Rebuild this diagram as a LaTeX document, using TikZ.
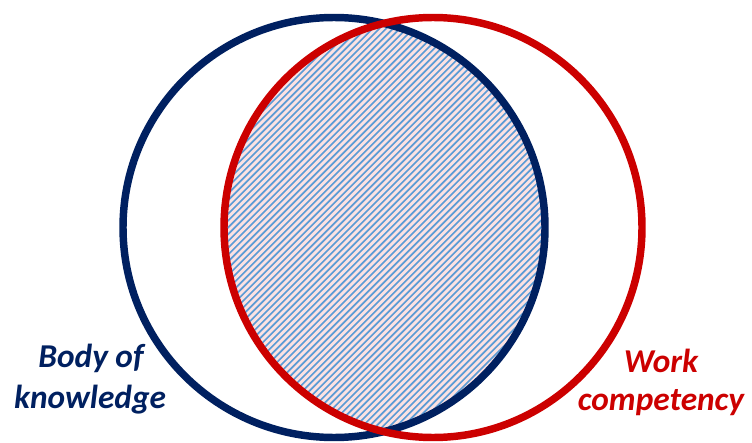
\documentclass[tikz,border=0pt]{standalone}
\usepackage{fontspec}
\setsansfont{Carlito}
\definecolor{navy}{RGB}{0,32,96}
\definecolor{wred}{RGB}{204,0,0}
\definecolor{hpink}{RGB}{252,226,226}
\definecolor{hblue}{RGB}{91,155,213}
\tikzset{
  ring/.style={line width=5.6pt},
  lbl/.style={font=\fontsize{25}{30}\sffamily\bfseries\itshape, inner sep=0pt, anchor=base},
}
\begin{document}
\begin{tikzpicture}[x=0.75pt,y=-0.75pt]
\useasboundingbox (0,0) rectangle (752,442);
\begin{scope}
  \clip (334,227.5) ellipse [x radius=211, y radius=210];
  \clip (433,227.5) ellipse [x radius=209, y radius=210];
  \fill[hpink] (0,0) rectangle (752,442);
  \foreach \i in {-460,-453.2,...,760} {
    \draw[hblue, line width=1.25pt] (\i,460) -- ++(480,-480);
  }
\end{scope}
\draw[ring, navy] (334,227.5) ellipse [x radius=211, y radius=210];
\draw[ring, wred] (433,227.5) ellipse [x radius=209, y radius=210];
\node[lbl, text=navy] (body1) at (91,367) {Body of};
\node[lbl, text=navy] (body2) at (90,408) {knowledge};
\node[lbl, text=wred] (work1) at (661,372) {Work};
\node[lbl, text=wred] (work2) at (661,410) {competency};
\end{tikzpicture}
\end{document}
